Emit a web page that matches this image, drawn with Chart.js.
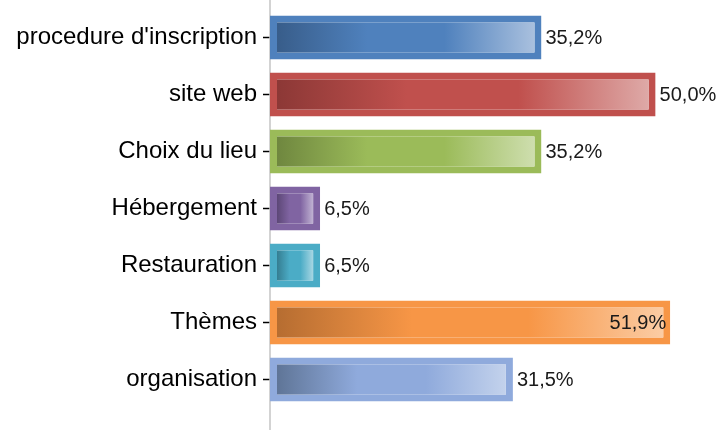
<!DOCTYPE html>
<html>
<head>
<meta charset="utf-8">
<script src="https://cdn.jsdelivr.net/npm/chart.js@4"></script>
<style>
  html, body { margin: 0; padding: 0; background: #fff; }
  #wrap { width: 725px; height: 430px; }
</style>
</head>
<body>
<div id="wrap"><canvas id="chart"></canvas></div>
<script>
    // Données
    const categories = ['procedure d\'inscription', 'site web', 'Choix du lieu', 'Hébergement', 'Restauration', 'Thèmes', 'organisation'];
    const values = [35.2, 50.0, 35.2, 6.5, 6.5, 51.9, 31.5];

    // Couleurs (bordure / début dégradé / fin dégradé)
    const baseColors  = ['#4F81BD', '#C0504D', '#9BBB59', '#8064A2', '#4BACC6', '#F79646', '#8FAADC'];
    const darkColors  = ['#385D8A', '#8C3836', '#6F873F', '#5C4776', '#357D91', '#B66D31', '#5F7597'];
    const lightColors = ['#A9C0DE', '#DEA9A7', '#CEDEAE', '#C0B2D2', '#A7D6E3', '#FBCCA4', '#C3D2EC'];

    const BORDER = 7;

    function fmt(v) {
        return v.toFixed(1).replace('.', ',') + '%';
    }

    // Dégradé horizontal pour chaque barre
    function barGradient(ctx) {
        const chart = ctx.chart;
        const xs = chart.scales.x;
        if (!xs || !chart.chartArea) return baseColors[ctx.dataIndex];
        const x0 = xs.getPixelForValue(0) + BORDER;
        const x1 = xs.getPixelForValue(values[ctx.dataIndex]) - BORDER;
        const i = ctx.dataIndex;
        const g = chart.ctx.createLinearGradient(x0, 0, Math.max(x1, x0 + 1), 0);
        g.addColorStop(0, darkColors[i]);
        g.addColorStop(0.35, baseColors[i]);
        g.addColorStop(0.65, baseColors[i]);
        g.addColorStop(1, lightColors[i]);
        return g;
    }

    // Ligne verticale de l'axe sur toute la hauteur
    const axisLine = {
        id: 'axisLine',
        beforeDatasetsDraw(chart) {
            const c = chart.ctx;
            const x = chart.scales.x.getPixelForValue(0);
            c.save();
            c.strokeStyle = '#c4c4c4';
            c.lineWidth = 1.5;
            c.beginPath();
            c.moveTo(x, 0);
            c.lineTo(x, chart.height);
            c.stroke();
            c.restore();
        }
    };

    // Étiquettes de valeur
    const valueLabels = {
        id: 'valueLabels',
        afterDatasetsDraw(chart) {
            const c = chart.ctx;
            const meta = chart.getDatasetMeta(0);
            c.save();
            c.font = '20px "Liberation Sans", Arial, sans-serif';
            c.fillStyle = '#1a1a1a';
            c.textBaseline = 'middle';
            meta.data.forEach((bar, i) => {
                const txt = fmt(values[i]);
                const w = c.measureText(txt).width;
                if (bar.x + 4 + w > chart.width) {
                    c.textAlign = 'right';
                    c.fillText(txt, bar.x - 4, bar.y + 1);
                } else {
                    c.textAlign = 'left';
                    c.fillText(txt, bar.x + 4, bar.y + 1);
                }
            });
            c.restore();
        }
    };

    new Chart(document.getElementById('chart'), {
        type: 'bar',
        data: {
            labels: categories,
            datasets: [{
                data: values,
                backgroundColor: barGradient,
                borderColor: baseColors,
                borderWidth: BORDER,
                borderSkipped: false,
                categoryPercentage: 1,
                barPercentage: 0.775
            }]
        },
        options: {
            indexAxis: 'y',
            responsive: true,
            maintainAspectRatio: false,
            animation: false,
            layout: {
                padding: { top: 9, bottom: 22, left: 0, right: 0 }
            },
            scales: {
                x: {
                    display: false,
                    min: 0,
                    max: 59
                },
                y: {
                    afterFit(scale) {
                        scale.width = 270;
                        scale.paddingTop = 0;
                        scale.paddingBottom = 0;
                    },
                    border: { display: false },
                    grid: {
                        offset: false,
                        drawOnChartArea: false,
                        drawTicks: true,
                        tickLength: 7,
                        tickColor: '#000',
                        tickWidth: 1.5
                    },
                    ticks: {
                        padding: 6,
                        color: '#000',
                        font: { family: '"Liberation Sans", Arial, sans-serif', size: 24 }
                    }
                }
            },
            plugins: {
                legend: { display: false },
                tooltip: { enabled: false }
            }
        },
        plugins: [axisLine, valueLabels]
    });
</script>
</body>
</html>
